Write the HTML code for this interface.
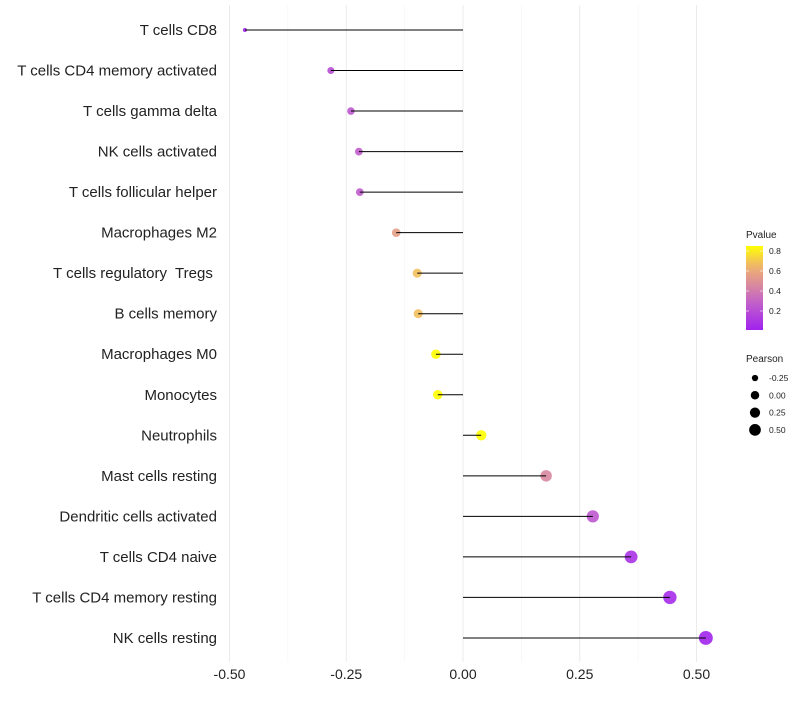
<!DOCTYPE html>
<html><head><meta charset="utf-8"><style>
body{margin:0;background:#fff;font-family:"Liberation Sans",sans-serif}
text{white-space:pre}
</style></head><body>
<svg id="c" width="800" height="700" xmlns="http://www.w3.org/2000/svg"></svg>
<script>
const categories=["T cells CD8","T cells CD4 memory activated","T cells gamma delta","NK cells activated","T cells follicular helper","Macrophages M2","T cells regulatory  Tregs ","B cells memory","Macrophages M0","Monocytes","Neutrophils","Mast cells resting","Dendritic cells activated","T cells CD4 naive","T cells CD4 memory resting","NK cells resting"];
const pearson=[-0.467,-0.283,-0.240,-0.223,-0.221,-0.143,-0.098,-0.096,-0.058,-0.054,0.039,0.178,0.278,0.360,0.443,0.520];
const pvalue=[0.02,0.2,0.25,0.27,0.27,0.55,0.68,0.68,0.85,0.85,0.87,0.45,0.25,0.08,0.05,0.02];
const xTicks=[-0.5,-0.25,0,0.25,0.5];
const xTickLabels=["-0.50","-0.25","0.00","0.25","0.50"];
const pTicks=[0.2,0.4,0.6,0.8];
const sizeTicks=[-0.25,0,0.25,0.5];
const sizeTickLabels=["-0.25","0.00","0.25","0.50"];

const NS="http://www.w3.org/2000/svg",svg=document.getElementById('c');
const x=v=>463+v*467;
const y=i=>30+i*40.53;
const rad=v=>Math.sqrt(Math.max(3.5,25+45*v));
const stops=[[0,[160,32,240]],[0.3,[196,100,200]],[0.45,[216,135,160]],[0.65,[240,180,110]],[0.85,[255,255,0]]];
function col(p){if(p<=stops[0][0])return `rgb(${stops[0][1]})`;for(let k=1;k<stops.length;k++){if(p<=stops[k][0]){const a=stops[k-1],b=stops[k],t=(p-a[0])/(b[0]-a[0]);return `rgb(${a[1].map((c,j)=>Math.round(c+(b[1][j]-c)*t))})`;}}return `rgb(${stops[stops.length-1][1]})`;}
function el(t,a,p){const e=document.createElementNS(NS,t);for(const k in a)e.setAttribute(k,a[k]);(p||svg).appendChild(e);return e;}
// grid
for(let k=0;k<xTicks.length;k++){
 const g=el('line',{x1:x(xTicks[k]),x2:x(xTicks[k]),y1:5,y2:662,stroke:'#ebebeb','stroke-width':1});
 
 
 if(k<xTicks.length-1){const m=el('line',{x1:x((xTicks[k]+xTicks[k+1])/2),x2:x((xTicks[k]+xTicks[k+1])/2),y1:5,y2:662,stroke:'#f4f4f4','stroke-width':0.6});
 
 }
 const t=el('text',{x:x(xTicks[k]),y:679,'text-anchor':'middle','font-size':14,fill:'#222'});t.textContent=xTickLabels[k];
 
 
}
for(let i=0;i<categories.length;i++){
 const t=el('text',{x:217,y:y(i)+5,'text-anchor':'end','font-size':15,fill:'#222'});t.textContent=categories[i];
 
 
 const c=el('circle',{cx:x(pearson[i]),cy:y(i),r:rad(pearson[i]),fill:col(pvalue[i]),'fill-opacity':0.9});
 
 
 const l=el('line',{x1:x(0),x2:x(pearson[i]),y1:y(i),y2:y(i),stroke:'#000','stroke-width':1});
 
 
}
// color legend
const defs=el('defs',{});const lg=el('linearGradient',{id:'g',x1:0,y1:1,x2:0,y2:0},defs);
for(let k=0;k<=10;k++){const p=0.01+k*0.084;el('stop',{offset:k/10,'stop-color':col(p)},lg);}
const lt=el('text',{x:746,y:238,'font-size':10,fill:'#222'});lt.textContent='Pvalue';


const bar=el('rect',{x:746,y:246,width:17,height:84,fill:'url(#g)'});


const py=p=>331-p*100;
for(const p of pTicks){
 el('line',{x1:746,x2:749,y1:py(p),y2:py(p),stroke:'#fff','stroke-width':0.6});
 el('line',{x1:760,x2:763,y1:py(p),y2:py(p),stroke:'#fff','stroke-width':0.6});
 const t=el('text',{x:769,y:py(p)+3,'font-size':8.5,fill:'#222'});t.textContent=p.toFixed(1);
 
 
}
const st=el('text',{x:746,y:362,'font-size':10,fill:'#222'});st.textContent='Pearson';


for(let k=0;k<sizeTicks.length;k++){
 const cy=378+k*17.3;
 const c=el('circle',{cx:755,cy:cy,r:rad(sizeTicks[k])*0.85,fill:'#000'});
 
 
 const t=el('text',{x:769,y:cy+3,'font-size':8.5,fill:'#222'});t.textContent=sizeTickLabels[k];
 
 
}
</script>
</body></html>
